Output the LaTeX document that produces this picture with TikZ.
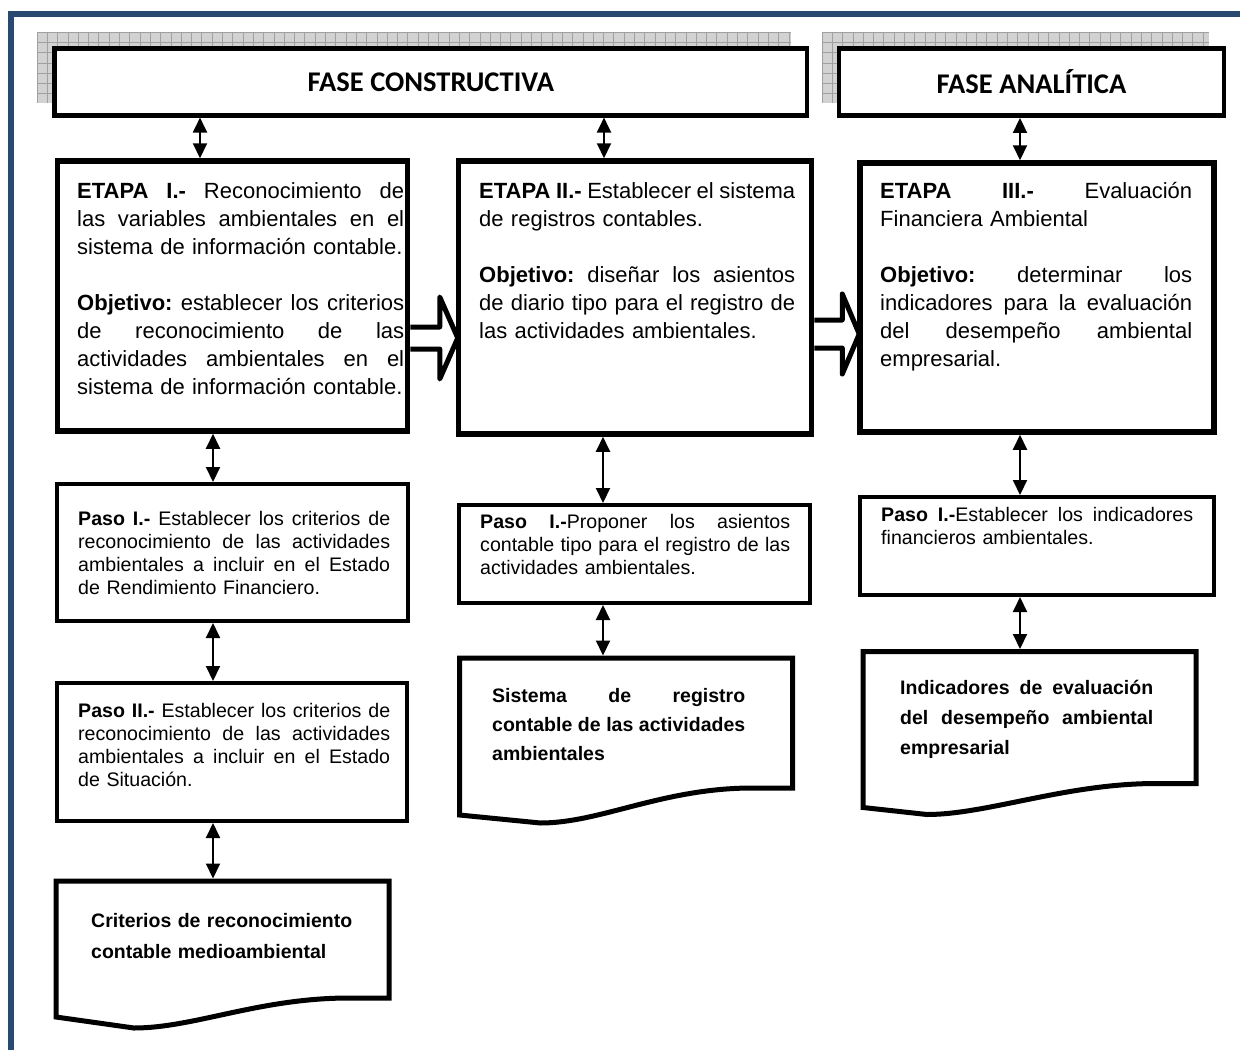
\documentclass[tikz,border=0pt]{standalone}
\usepackage{fontspec}
\setmainfont{Liberation Sans}
\newfontfamily\headfont{Carlito}
\usetikzlibrary{arrows.meta,calc,backgrounds}

\definecolor{frameblue}{RGB}{41,74,112}
\definecolor{shadefill}{RGB}{210,210,210}
\definecolor{shadegrid}{RGB}{160,160,160}

% one line of text spread over the full text width (all word spaces stretch evenly)
\newcommand{\jline}[1]{\makebox[\linewidth][s]{\spaceskip=0.278em plus 1fil minus 0.08em\relax
  \xspaceskip=\spaceskip #1}}

% document symbol: #1 anchor node, #2 left drop, #3 dip depth, #4 dip offset, #5 rise control
\newcommand{\docoutline}[5]{%
  \draw[docline] (#1.south east) -- (#1.north east) -- (#1.north west)
    -- ($(#1.south west)+(0,#2)$) -- ($(#1.south west)+(#4,#3)$)
    .. controls ($(#1.south west)+(#4+60,#3)$) and ($(#1.south east)+(-#5,0)$)
    .. ($(#1.south east)+(-40,0)$) -- cycle;}

\tikzset{
  stagebox/.style={draw, line width=5.5pt, inner sep=0pt},
  stepbox/.style={draw, line width=4pt, inner sep=0pt},
  phasebox/.style={draw, fill=white, line width=4.5pt, inner sep=0pt,
    font=\headfont\bfseries\fontsize{28.5}{34}\selectfont},
  docanchor/.style={inner sep=0pt, outer sep=0pt},
  docline/.style={line width=5pt, line join=miter},
  stagetext/.style={anchor=north west, inner sep=0pt, align=left,
    font=\fontsize{22}{28}\selectfont},
  steptext/.style={anchor=north west, inner sep=0pt, align=left,
    font=\fontsize{19.6}{23}\selectfont},
  doctext/.style={anchor=north west, inner sep=0pt, align=left,
    font=\bfseries\fontsize{19.5}{31}\selectfont},
  link/.style={line width=2pt, {Triangle[width=14pt,length=15pt]}-{Triangle[width=14pt,length=15pt]}},
  blockarrow/.style={draw, fill=white, line width=5pt, line join=round},
  gridline/.style={shadegrid, line width=0.8pt},
}

\begin{document}
\begin{tikzpicture}[x=1pt, y=-1pt]
\useasboundingbox (0,0) rectangle (1240,1050);

% outer frame
\draw[frameblue, line width=5.5pt, line join=miter] (11,1050) -- (11,14) -- (1240,14);

% hatched shadows behind the phase headers
\begin{scope}
  \clip (37,32) rectangle (791,103);
  \fill[shadefill] (37,32) rectangle (791,103);
  \foreach \gx in {37,47.3,...,792} \draw[gridline] (\gx,32) -- (\gx,103);
  \foreach \gy in {32,42.3,...,104} \draw[gridline] (37,\gy) -- (791,\gy);
\end{scope}
\begin{scope}
  \clip (822,32) rectangle (1209,103);
  \fill[shadefill] (822,32) rectangle (1209,103);
  \foreach \gx in {822,832.3,...,1210} \draw[gridline] (\gx,32) -- (\gx,103);
  \foreach \gy in {32,42.3,...,104} \draw[gridline] (822,\gy) -- (1209,\gy);
\end{scope}

% phase headers
\node[phasebox, minimum width={807-54.7}, minimum height={115.3-48.7}]
  (phaseA) at ({(54.7+807)/2},{(48.7+115.3)/2}) {FASE CONSTRUCTIVA};
\node[phasebox, minimum width={1224-839}, minimum height={115.7-48.3}]
  (phaseB) at ({(839+1224)/2},{(48.3+115.7)/2}) {FASE ANALÍTICA};

% stage boxes
\node[stagebox, minimum width={407.5-57.5}, minimum height={431-161}]
  (stageI) at ({(57.5+407.5)/2},{(161+431)/2}) {};
\node[stagebox, minimum width={811.5-458.5}, minimum height={434-161}]
  (stageII) at ({(458.5+811.5)/2},{(161+434)/2}) {};
\node[stagebox, minimum width={1214-860}, minimum height={432-163}]
  (stageIII) at ({(860+1214)/2},{(163+432)/2}) {};

% step boxes
\node[stepbox, minimum width={408-57}, minimum height={621-484}]
  (stepA) at ({(57+408)/2},{(484+621)/2}) {};
\node[stepbox, minimum width={407-57}, minimum height={821-683}]
  (stepB) at ({(57+407)/2},{(683+821)/2}) {};
\node[stepbox, minimum width={810-459}, minimum height={603-505}]
  (stepC) at ({(459+810)/2},{(505+603)/2}) {};
\node[stepbox, minimum width={1214-860}, minimum height={595-497}]
  (stepD) at ({(860+1214)/2},{(497+595)/2}) {};

% document symbols
\node[docanchor, minimum width={389-56}, minimum height={998-881}]
  (docA) at ({(56+389)/2},{(881+998)/2}) {};
\node[docanchor, minimum width={792.5-459.5}, minimum height={788-658}]
  (docB) at ({(459.5+792.5)/2},{(658+788)/2}) {};
\node[docanchor, minimum width={1196-863}, minimum height={783.5-651.5}]
  (docC) at ({(863+1196)/2},{(651.5+783.5)/2}) {};
\docoutline{docA}{19}{30}{78}{130}
\docoutline{docB}{27}{35}{81}{130}
\docoutline{docC}{24}{31}{64}{130}

% texts
\node[stagetext, text width=327pt] (tStageI) at (77,178.4) {%
  \jline{\strut\textbf{ETAPA I.-} Reconocimiento de}\\
  \jline{las variables ambientales en el}\\
  sistema de información contable.\\[28pt]
  \jline{\textbf{Objetivo:} establecer los criterios}\\
  \jline{de reconocimiento de las}\\
  \jline{actividades ambientales en el}\\
  sistema de información contable.};
\node[stagetext, text width=316pt] (tStageII) at (479,178.4) {%
  \jline{\strut\textbf{ETAPA II.-} Establecer el sistema}\\
  de registros contables.\\[28pt]
  \jline{\textbf{Objetivo:} diseñar los asientos}\\
  \jline{de diario tipo para el registro de}\\
  las actividades ambientales.};
\node[stagetext, text width=312pt] (tStageIII) at (880,178.4) {%
  \jline{\strut\textbf{ETAPA III.-} Evaluación}\\
  Financiera Ambiental\\[28pt]
  \jline{\textbf{Objetivo:} determinar los}\\
  \jline{indicadores para la evaluación}\\
  \jline{del desempeño ambiental}\\
  empresarial.};

\node[steptext, text width=312pt] (tStepA) at (78,508.9) {%
  \jline{\strut\textbf{Paso I.-} Establecer los criterios de}\\
  \jline{reconocimiento de las actividades}\\
  \jline{ambientales a incluir en el Estado}\\
  de Rendimiento Financiero.};
\node[steptext, text width=312pt] (tStepB) at (78,700.9) {%
  \jline{\strut\textbf{Paso II.-} Establecer los criterios de}\\
  \jline{reconocimiento de las actividades}\\
  \jline{ambientales a incluir en el Estado}\\
  de Situación.};
\node[steptext, text width=310pt] (tStepC) at (480,511.9) {%
  \jline{\strut\textbf{Paso I.-}Proponer los asientos}\\
  \jline{contable tipo para el registro de las}\\
  actividades ambientales.};
\node[steptext, text width=312pt] (tStepD) at (881,504.9) {%
  \jline{\strut\textbf{Paso I.-}Establecer los indicadores}\\
  financieros ambientales.};

\node[doctext, text width=261pt] (tDocA) at (91,905.3) {%
  \jline{\strut Criterios de reconocimiento}\\
  contable medioambiental};
\node[doctext, text width=253pt, font=\bfseries\fontsize{19.5}{29}\selectfont]
  (tDocB) at (492,681.7) {%
  \jline{\strut Sistema de registro}\\
  \jline{contable de las actividades}\\
  ambientales};
\node[doctext, text width=253pt, font=\bfseries\fontsize{19.5}{30}\selectfont]
  (tDocC) at (900,673) {%
  \jline{\strut Indicadores de evaluación}\\
  \jline{del desempeño ambiental}\\
  empresarial};

% columns of the vertical links
\coordinate (colA) at (200,0);
\coordinate (colB) at (213,0);
\coordinate (colC) at (604,0);
\coordinate (colD) at (603,0);
\coordinate (colE) at (1020,0);

\draw[link] (phaseA.south -| colA) -- (stageI.north -| colA);
\draw[link] (phaseA.south -| colC) -- (stageII.north -| colC);
\draw[link] (phaseB.south -| colE) -- (stageIII.north -| colE);

\draw[link] (stageI.south -| colB) -- (stepA.north -| colB);
\draw[link] (stepA.south -| colB) -- (stepB.north -| colB);
\draw[link, shorten >=2.5pt] (stepB.south -| colB) -- (docA.north -| colB);

\draw[link] (stageII.south -| colD) -- (stepC.north -| colD);
\draw[link, shorten >=2.5pt] (stepC.south -| colD) -- (docB.north -| colD);

\draw[link] (stageIII.south -| colE) -- (stepD.north -| colE);
\draw[link, shorten >=2.5pt] (stepD.south -| colE) -- (docC.north -| colE);

% hollow block arrows between the stages
\coordinate (rowA) at (0,338);
\coordinate (rowB) at (0,334);
\begin{scope}[on background layer]
  \path[blockarrow] let \p1=(stageI.east |- rowA), \p2=($(stageII.west |- rowA)+(2,0)$) in
    (\x1,\y1+11) -- (\x2-18,\y1+11) -- (\x2-18,\y1+41) -- (\x2,\y1)
    -- (\x2-18,\y1-41) -- (\x2-18,\y1-11) -- (\x1,\y1-11);
  \path[blockarrow] let \p1=(stageII.east |- rowB), \p2=($(stageIII.west |- rowB)+(2,0)$) in
    (\x1,\y1+14) -- (\x2-17,\y1+14) -- (\x2-17,\y1+40) -- (\x2,\y1)
    -- (\x2-17,\y1-40) -- (\x2-17,\y1-14) -- (\x1,\y1-14);
\end{scope}

\end{tikzpicture}
\end{document}
